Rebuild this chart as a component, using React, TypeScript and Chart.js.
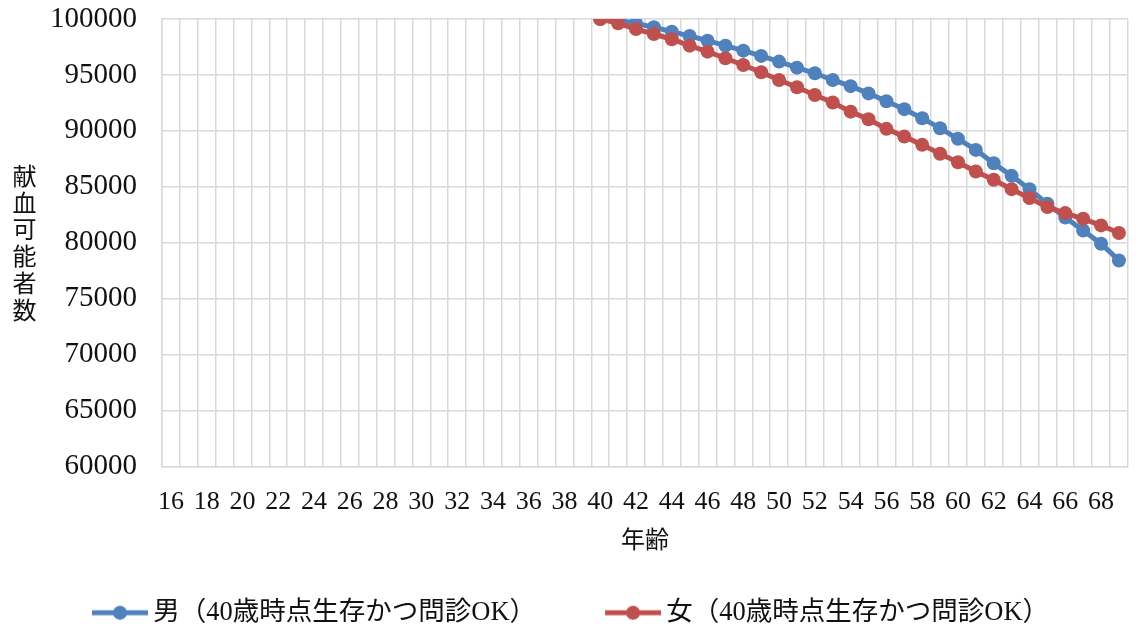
import React, { useEffect, useRef } from "react";
import { Chart, registerables } from "chart.js";

Chart.register(...registerables);

// ---- data ----
const ages = [
  "16", "17", "18", "19", "20", "21", "22", "23", "24", "25", "26", "27", "28", "29",
  "30", "31", "32", "33", "34", "35", "36", "37", "38", "39", "40", "41", "42", "43",
  "44", "45", "46", "47", "48", "49", "50", "51", "52", "53", "54", "55", "56", "57",
  "58", "59", "60", "61", "62", "63", "64", "65", "66", "67", "68", "69",
];
const dataAges = [
  "40", "41", "42", "43", "44", "45", "46", "47", "48", "49", "50", "51", "52", "53", "54",
  "55", "56", "57", "58", "59", "60", "61", "62", "63", "64", "65", "66", "67", "68", "69",
];
const maleValues = [
  100000, 99900, 99610, 99260, 98870, 98480, 98060, 97620, 97170, 96700, 96190, 95650,
  95150, 94550, 94000, 93350, 92650, 91940, 91130, 90240, 89290, 88300, 87110, 85980,
  84790, 83480, 82250, 81100, 79910, 78420,
];
const femaleValues = [
  100000, 99610, 99100, 98660, 98190, 97620, 97080, 96490, 95890, 95240, 94550, 93900,
  93210, 92530, 91720, 91040, 90180, 89490, 88750, 87950, 87200, 86370, 85630, 84790,
  83990, 83190, 82650, 82140, 81550, 80870,
];
const maleLabel = "男（40歳時点生存かつ問診OK）";
const femaleLabel = "女（40歳時点生存かつ問診OK）";
const xTitle = "年齢";
const yTitle = "献血可能者数";
const yMin = 60000;
const yMax = 100000;
const yStep = 5000;

// ---- styles ----
const maleColor = "#4F81BD";
const femaleColor = "#C0504D";
const gridColor = "#D9D9D9";
const textColor = "#111111";
const serifFamily = "'Liberation Serif', 'Noto Sans CJK JP', serif";
const cjkFamily = "'Noto Sans CJK JP', sans-serif";

function makeSwatch(color: string): HTMLCanvasElement {
  const c = document.createElement("canvas");
  c.width = 123;
  c.height = 16;
  const g = c.getContext("2d")!;
  g.strokeStyle = color;
  g.lineWidth = 5;
  g.beginPath();
  g.moveTo(67, 8);
  g.lineTo(123, 8);
  g.stroke();
  g.fillStyle = color;
  g.beginPath();
  g.arc(95, 8, 7, 0, Math.PI * 2);
  g.fill();
  return c;
}

const verticalTitlePlugin = {
  id: "verticalYTitle",
  afterDraw(chart: any) {
    const { ctx, chartArea } = chart;
    const chars = Array.from(yTitle);
    const step = 26.8;
    const cy = (chartArea.top + chartArea.bottom) / 2;
    ctx.save();
    ctx.font = `24px ${cjkFamily}`;
    ctx.fillStyle = textColor;
    ctx.textAlign = "center";
    ctx.textBaseline = "middle";
    chars.forEach((ch, i) => {
      ctx.fillText(ch, 24.5, cy + (i - (chars.length - 1) / 2) * step);
    });
    ctx.restore();
  },
};

export default function App() {
  const canvasRef = useRef<HTMLCanvasElement | null>(null);

  useEffect(() => {
    if (!canvasRef.current) return;
    const swatches = [makeSwatch(maleColor), makeSwatch(femaleColor)];
    const chart = new Chart(canvasRef.current, {
      type: "line",
      data: {
        labels: ages,
        datasets: [
          {
            label: maleLabel,
            data: dataAges.map((a, i) => ({ x: a, y: maleValues[i] })),
            borderColor: maleColor,
            backgroundColor: maleColor,
            borderWidth: 5,
            pointRadius: 7,
            pointBorderWidth: 0,
            pointBackgroundColor: maleColor,
            tension: 0,
            order: 1,
          },
          {
            label: femaleLabel,
            data: dataAges.map((a, i) => ({ x: a, y: femaleValues[i] })),
            borderColor: femaleColor,
            backgroundColor: femaleColor,
            borderWidth: 5,
            pointRadius: 7,
            pointBorderWidth: 0,
            pointBackgroundColor: femaleColor,
            tension: 0,
            order: 0,
          },
        ],
      },
      options: {
        animation: false,
        responsive: true,
        maintainAspectRatio: false,
        layout: { padding: { left: 23, right: 6, top: 19, bottom: 1 } },
        plugins: {
          tooltip: { enabled: false },
          legend: {
            position: "bottom",
            align: "start",
            labels: {
              usePointStyle: true,
              pointStyleWidth: 107,
              padding: 10,
              color: textColor,
              font: { size: 26.5, family: serifFamily },
              generateLabels: (ch: any) => {
                const items = (Chart.defaults.plugins.legend.labels as any).generateLabels(ch);
                return items
                  .sort((a: any, b: any) => a.datasetIndex - b.datasetIndex)
                  .map((it: any) => ({
                    ...it,
                    pointStyle: swatches[it.datasetIndex],
                    fontColor: textColor,
                  }));
              },
            },
          },
        },
        scales: {
          x: {
            type: "category",
            offset: true,
            afterFit: (scale: any) => {
              scale.height = 123;
            },
            grid: { color: gridColor, lineWidth: 1.5, offset: true, drawTicks: false },
            border: { color: gridColor, width: 1.5 },
            ticks: {
              autoSkip: false,
              maxRotation: 0,
              minRotation: 0,
              padding: 20,
              color: textColor,
              font: { size: 26, family: serifFamily },
              callback: (_v: any, index: number) => (index % 2 === 0 ? ages[index] : ""),
            },
            title: {
              display: true,
              text: xTitle,
              color: textColor,
              font: { size: 24, family: cjkFamily },
              padding: { top: 8.6, bottom: 36.6 },
            },
          },
          y: {
            min: yMin,
            max: yMax,
            afterFit: (scale: any) => {
              scale.width = 139;
              scale.paddingTop = 0;
              scale.paddingBottom = 0;
            },
            grid: { color: gridColor, lineWidth: 1.5, drawTicks: false },
            border: { color: gridColor, width: 1.5 },
            ticks: {
              stepSize: yStep,
              padding: 25,
              color: textColor,
              font: { size: 29, family: serifFamily },
              callback: (v: any) => String(v),
            },
          },
        },
      },
      plugins: [verticalTitlePlugin],
    } as any);
    return () => chart.destroy();
  }, []);

  return (
    <div
      style={{
        position: "fixed",
        left: 0,
        top: 0,
        width: "1139px",
        height: "637px",
        background: "#ffffff",
      }}
    >
      <canvas ref={canvasRef} />
    </div>
  );
}
